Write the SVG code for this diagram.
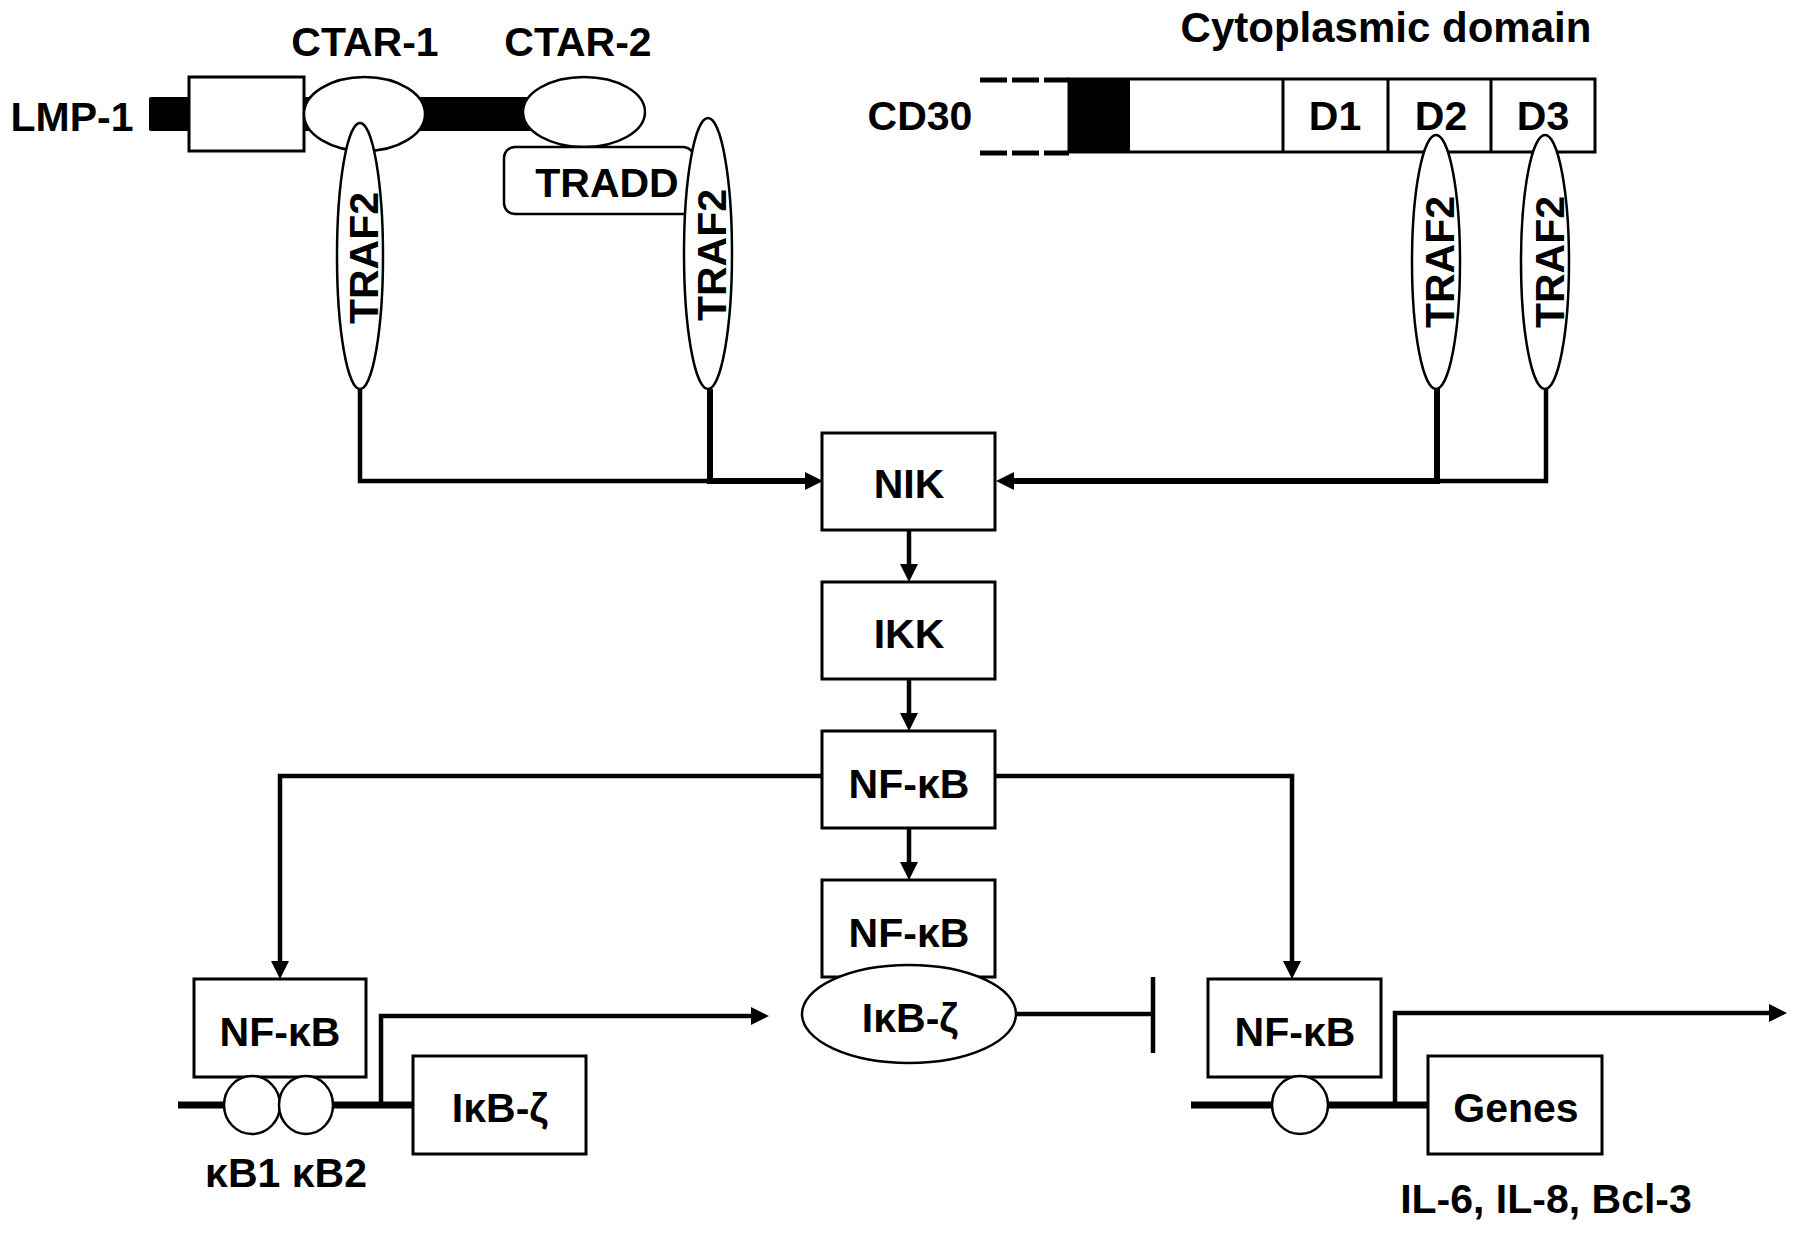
<svg xmlns="http://www.w3.org/2000/svg" width="1795" height="1234" viewBox="0 0 1795 1234">
<style>
text{font-family:"Liberation Sans",Arial,sans-serif;font-weight:bold;font-size:41px;fill:#000;text-anchor:middle}
.box{fill:#fff;stroke:#000;stroke-width:3}
.el{fill:#fff;stroke:#000;stroke-width:2.5}
.ln{fill:none;stroke:#000;stroke-width:4.5}
.thk{fill:none;stroke:#000;stroke-width:6}
.dna{fill:none;stroke:#000;stroke-width:7}
</style>
<defs>
<marker id="arr" markerUnits="userSpaceOnUse" viewBox="0 0 18 18" refX="12" refY="9" markerWidth="18" markerHeight="18" orient="auto">
<path d="M0,0 L18,9 L0,18 z" fill="#000"/>
</marker>
</defs>
<rect width="1795" height="1234" fill="#fff"/>

<g id="connectors">
<path class="ln" d="M360,389 V481 H710"/>
<path class="thk" d="M710,389 V481 H817" marker-end="url(#arr)"/>
<path class="ln" d="M1546,389 V481 H1437"/>
<path class="thk" d="M1437,389 V481 H1002" marker-end="url(#arr)"/>
<path class="ln" d="M909,530 V576" marker-end="url(#arr)"/>
<path class="ln" d="M909,679 V725" marker-end="url(#arr)"/>
<path class="ln" d="M909,828 V874" marker-end="url(#arr)"/>
<path class="ln" d="M823,776 H280 V973" marker-end="url(#arr)"/>
<path class="ln" d="M995,776 H1292 V973" marker-end="url(#arr)"/>
<path class="dna" d="M178,1105 H413"/>
<path class="ln" d="M381,1105 V1016 H763" marker-end="url(#arr)"/>
<path class="ln" d="M1017,1014 H1153"/>
<path class="ln" d="M1153,977 V1053"/>
<path class="dna" d="M1191,1105 H1428"/>
<path class="ln" d="M1395,1105 V1013 H1781" marker-end="url(#arr)"/>
</g>

<g id="lmp1">
<text x="72" y="131">LMP-1</text>
<rect x="149" y="97" width="390" height="34" rx="2" fill="#000"/>
<rect class="box" x="189" y="77" width="115" height="74"/>
<ellipse class="el" cx="364.5" cy="114" rx="60.5" ry="37"/>
<ellipse class="el" cx="584" cy="112" rx="61" ry="35"/>
<text x="365" y="56">CTAR-1</text>
<text x="578" y="56">CTAR-2</text>
</g>

<g id="tradd">
<rect class="el" x="504" y="147" width="190" height="67" rx="11"/>
<text x="607" y="197">TRADD</text>
</g>

<g id="traf2-ctar1">
<ellipse class="el" cx="360" cy="256" rx="23" ry="133"/>
<text transform="translate(378,258) rotate(-90)" x="0" y="0">TRAF2</text>
</g>
<g id="traf2-ctar2">
<ellipse class="el" cx="708" cy="253.5" rx="24" ry="135.5"/>
<text transform="translate(726,255) rotate(-90)" x="0" y="0">TRAF2</text>
</g>

<g id="cd30">
<text x="920" y="130">CD30</text>
<text x="1386" y="42" style="font-size:42px">Cytoplasmic domain</text>
<path d="M980,80 H1069 M980,153 H1069" stroke="#000" stroke-width="5" stroke-dasharray="27 5" fill="none"/>
<rect class="box" x="1069" y="79" width="526" height="73"/>
<rect x="1069" y="79" width="61" height="73" fill="#000"/>
<path d="M1283,79 V152 M1388,79 V152 M1491,79 V152" stroke="#000" stroke-width="3"/>
<text x="1335" y="130">D1</text>
<text x="1441" y="130">D2</text>
<text x="1543" y="130">D3</text>
</g>

<g id="traf2-d2">
<ellipse class="el" cx="1436" cy="262" rx="24" ry="127"/>
<text transform="translate(1454,262) rotate(-90)" x="0" y="0">TRAF2</text>
</g>
<g id="traf2-d3">
<ellipse class="el" cx="1545" cy="262" rx="24" ry="127"/>
<text transform="translate(1564,262) rotate(-90)" x="0" y="0">TRAF2</text>
</g>

<g id="nik">
<rect class="box" x="822" y="433" width="173" height="97"/>
<text x="909" y="498">NIK</text>
</g>
<g id="ikk">
<rect class="box" x="822" y="582" width="173" height="97"/>
<text x="909" y="648">IKK</text>
</g>
<g id="nfkb-main">
<rect class="box" x="822" y="731" width="173" height="97"/>
<text x="909" y="798">NF-κB</text>
</g>
<g id="nfkb-complex">
<rect class="box" x="822" y="880" width="173" height="97"/>
<text x="909" y="947">NF-κB</text>
<ellipse class="el" cx="909" cy="1014" rx="107" ry="49"/>
<text x="910" y="1032">IκB-ζ</text>
</g>

<g id="nfkb-left">
<rect class="box" x="194" y="979" width="172" height="98"/>
<text x="280" y="1046">NF-κB</text>
</g>
<g id="kb-sites">
<ellipse class="el" cx="252" cy="1105" rx="28" ry="29"/>
<ellipse class="el" cx="306" cy="1105" rx="27" ry="29"/>
<text x="286" y="1187">κB1 κB2</text>
</g>
<g id="ikbz-gene">
<rect class="box" x="413" y="1056" width="173" height="98"/>
<text x="500" y="1122">IκB-ζ</text>
</g>

<g id="nfkb-right">
<rect class="box" x="1208" y="979" width="173" height="98"/>
<text x="1295" y="1046">NF-κB</text>
</g>
<g id="kb-site-right">
<ellipse class="el" cx="1300" cy="1105" rx="28" ry="29"/>
</g>
<g id="genes">
<rect class="box" x="1428" y="1056" width="174" height="98"/>
<text x="1516" y="1122">Genes</text>
<text x="1546" y="1213">IL-6, IL-8, Bcl-3</text>
</g>
</svg>
